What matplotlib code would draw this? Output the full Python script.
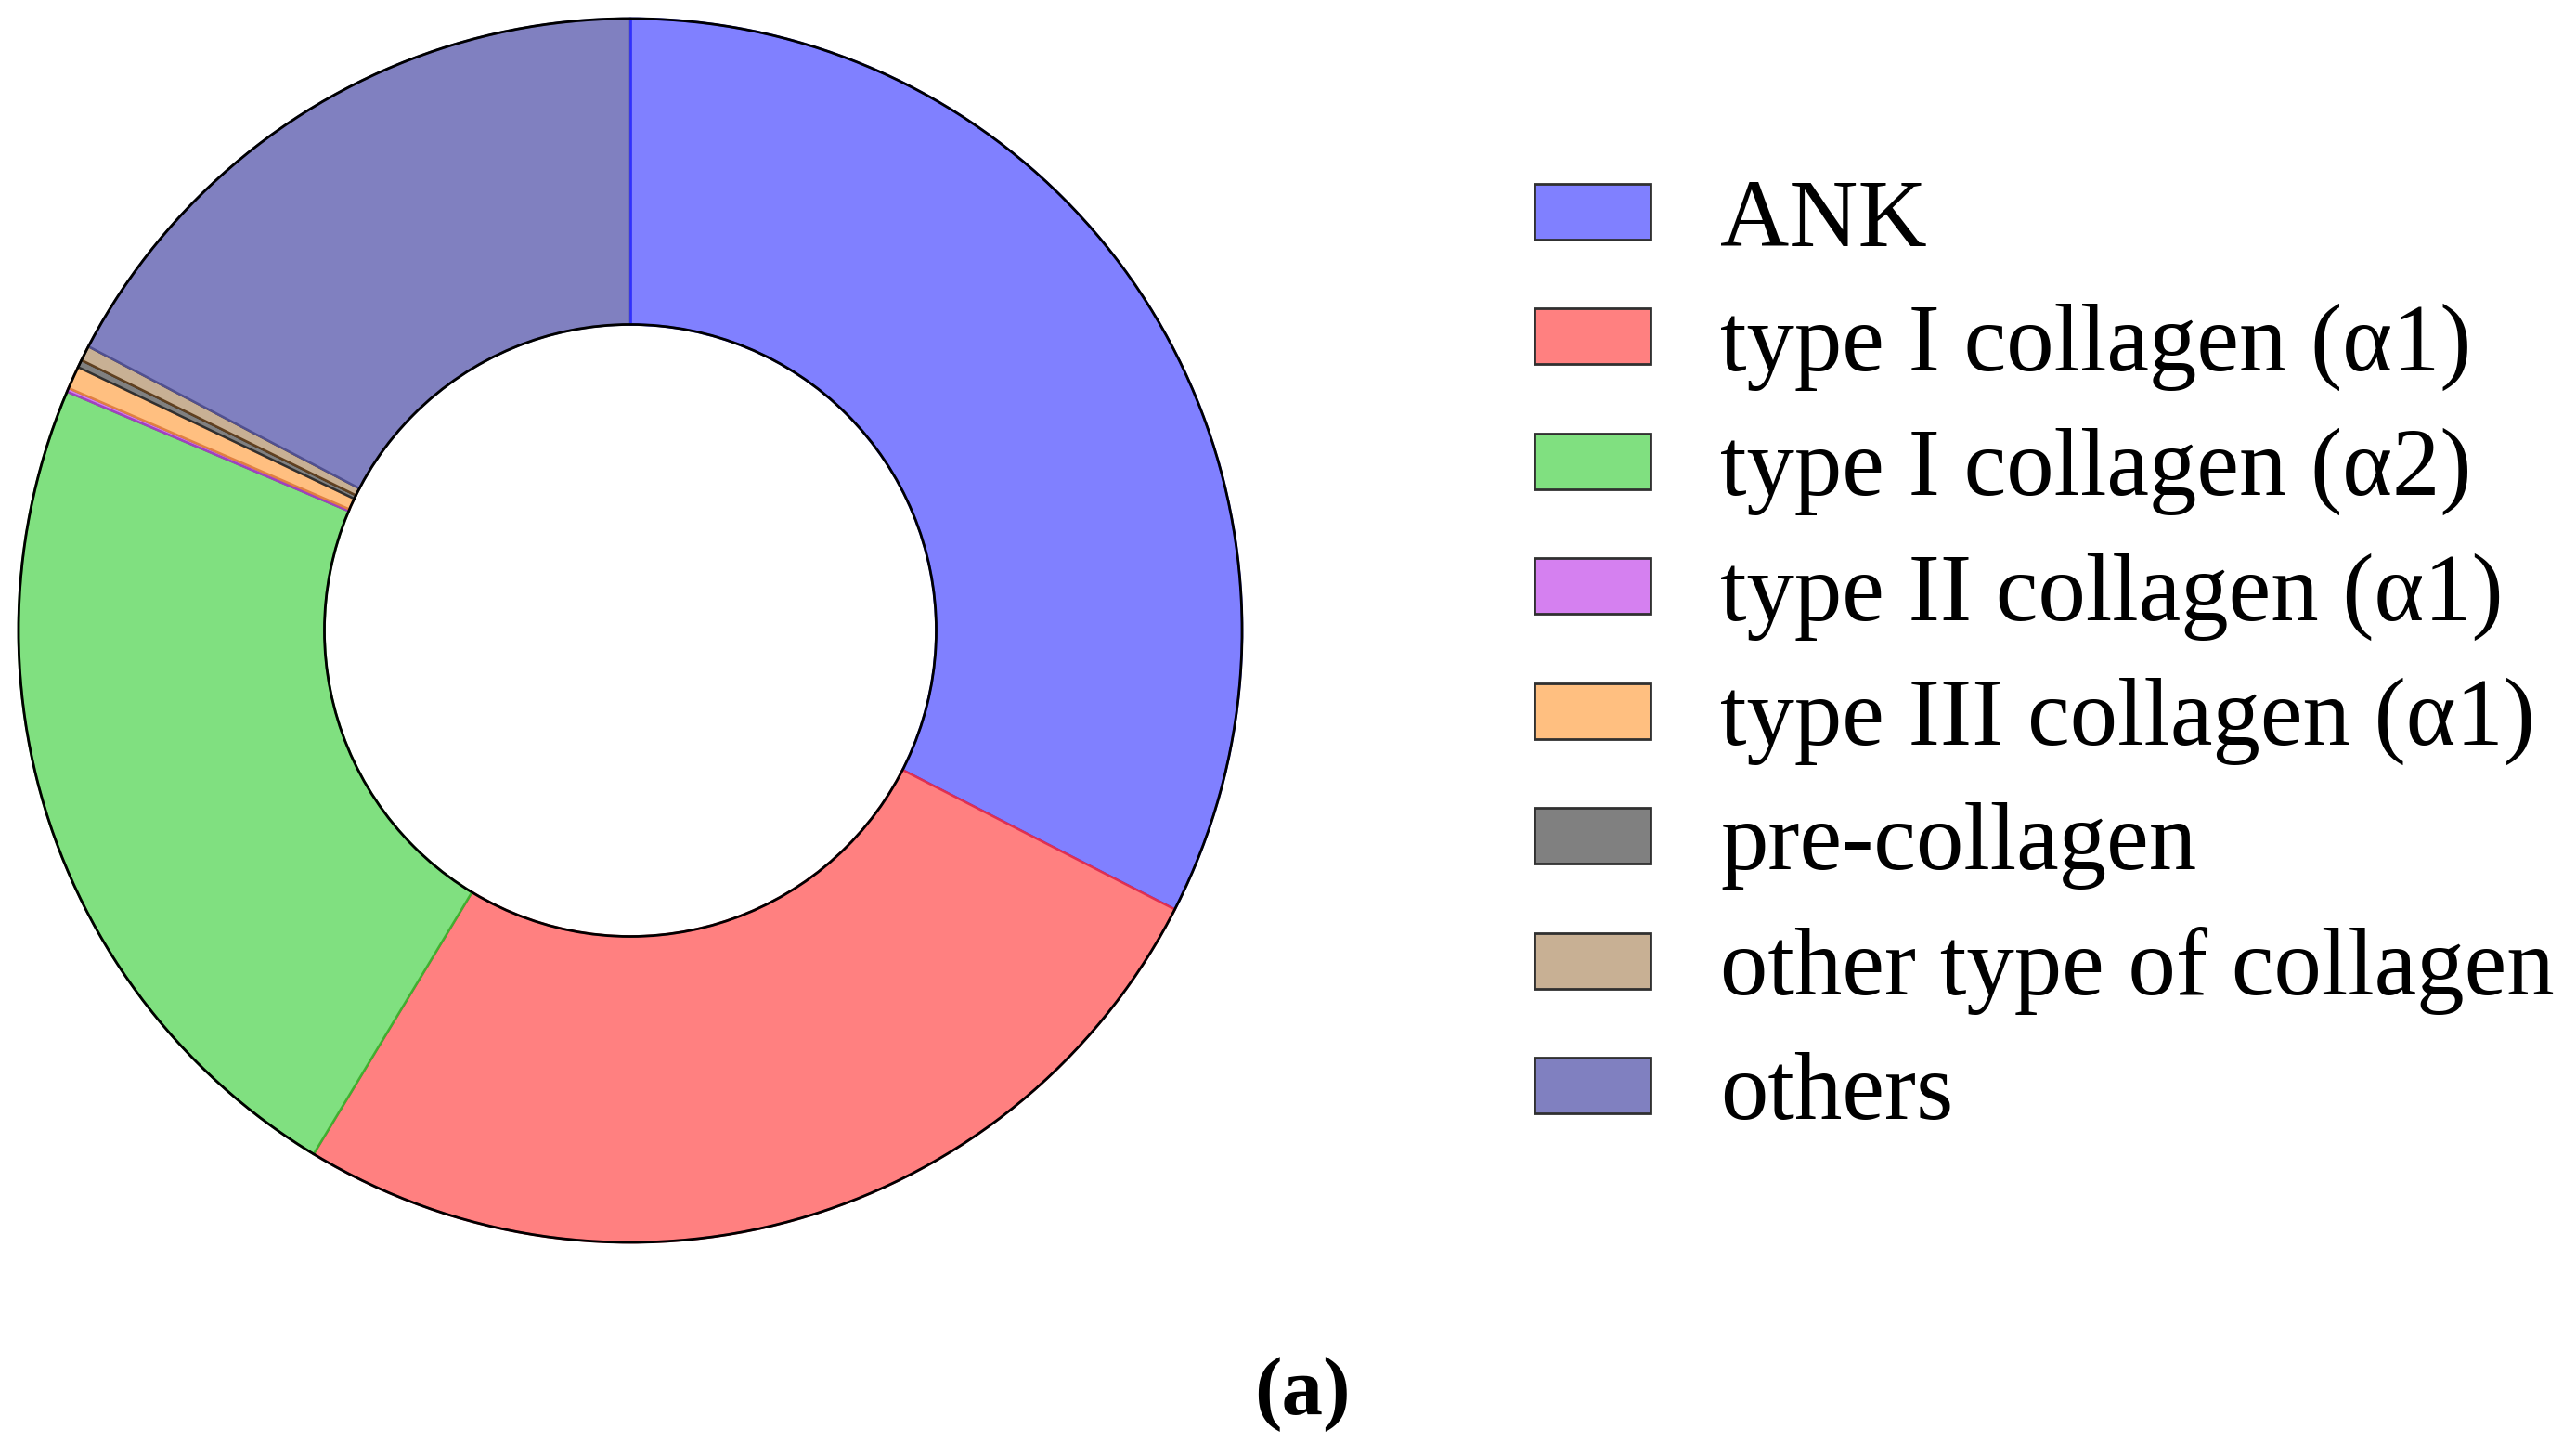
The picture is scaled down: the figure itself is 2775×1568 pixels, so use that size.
import matplotlib
matplotlib.use("Agg")
import matplotlib.pyplot as plt
from matplotlib.patches import Patch, Circle

labels = ["ANK", "type I collagen (\u03b11)", "type I collagen (\u03b12)",
          "type II collagen (\u03b11)", "type III collagen (\u03b11)",
          "pre-collagen", "other type of collagen", "others"]
values = [32.5, 26.1, 22.7, 0.1, 0.6, 0.2, 0.4, 17.3]
colors = ["#8080FF", "#FF8080", "#80E080", "#D580F0", "#FFBF80",
          "#808080", "#C8B094", "#8080C0"]
edges = ["#3030FF", "#E03050", "#40B030", "#A040C0", "#E08040",
         "#303030", "#604020", "#505090"]

plt.rcParams['font.family'] = ['Liberation Serif', 'DejaVu Serif']

W, H = 2775, 1568
fig = plt.figure(figsize=(W / 100, H / 100), dpi=100)
cx, cy, r = 679, 679, 661
ax = fig.add_axes([(cx - r) / W, (H - cy - r) / H, 2 * r / W, 2 * r / H])
wedges, _ = ax.pie(values, colors=colors, startangle=90, counterclock=False,
                   radius=1, wedgeprops=dict(width=0.5, linewidth=1.8))
for w, e in zip(wedges, edges):
    w.set_edgecolor(e)
# start boundary of the first wedge drawn in its own edge colour
ax.plot([0, 0], [0.5, 1], color=edges[0], lw=1.8, zorder=6)
ax.add_patch(Circle((0, 0), 1, fill=False, edgecolor="black", lw=2, zorder=10))
ax.add_patch(Circle((0, 0), 0.5, fill=False, edgecolor="black", lw=2, zorder=10))
ax.set_xlim(-1.003, 1.003)
ax.set_ylim(-1.003, 1.003)
ax.set_aspect("equal")
ax.axis("off")

handles = [Patch(facecolor=c, edgecolor="#303030", linewidth=2) for c in colors]
fig.legend(handles, labels, loc="center left",
           bbox_to_anchor=(1653 / W, (H - 710) / H), frameon=False,
           fontsize=74, handlelength=1.22, handleheight=0.52,
           handletextpad=0.73, labelspacing=0.39, borderpad=0, borderaxespad=0)

fig.text(1403 / W, (H - 1502) / H, "(a)", fontsize=64, fontweight="bold",
         ha="center", va="center")

fig.savefig("out.png", dpi=100, facecolor="white")
